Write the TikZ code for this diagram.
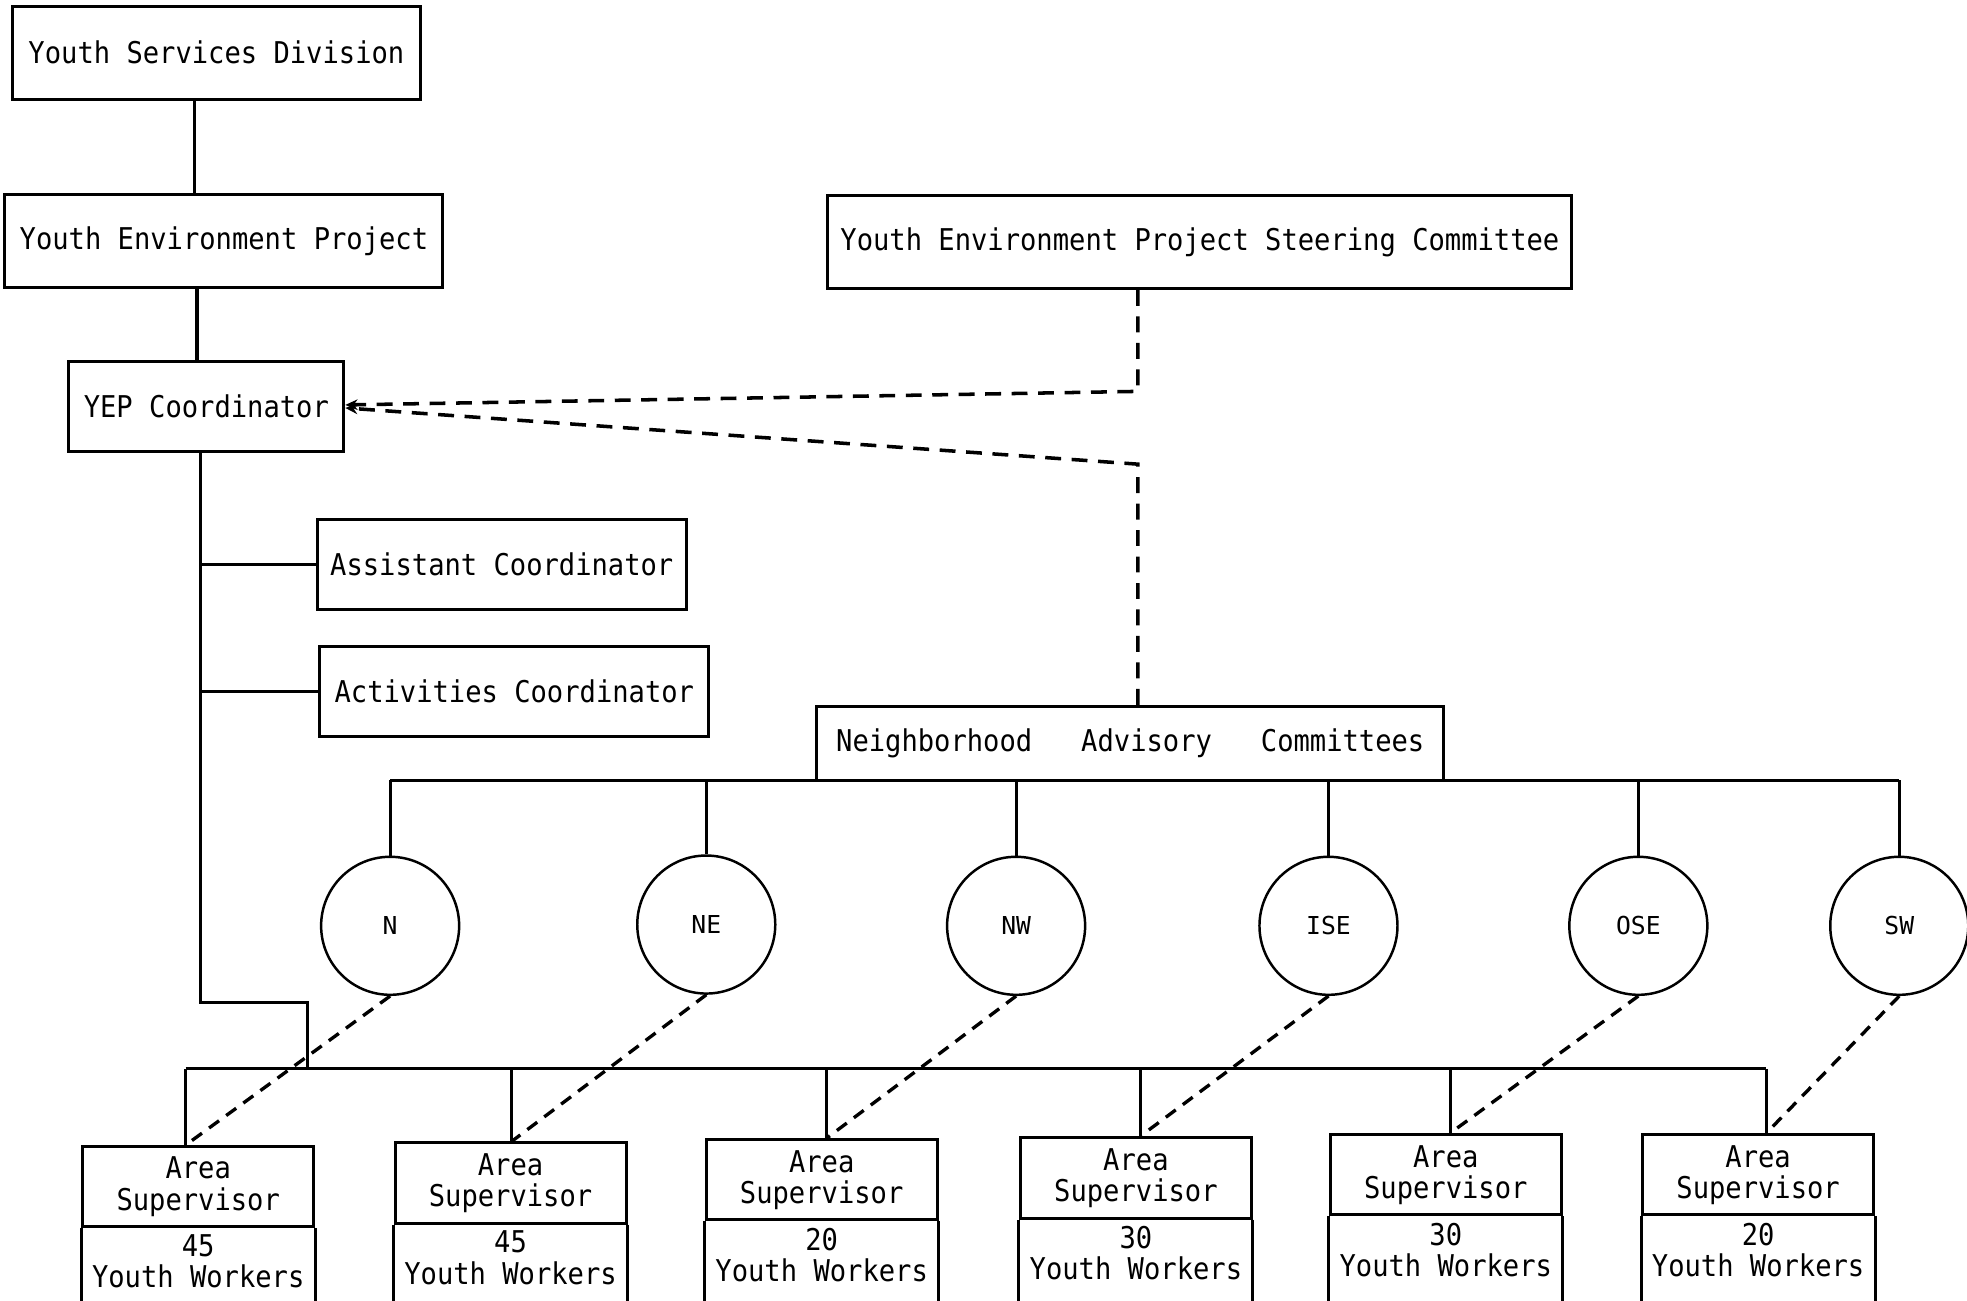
\documentclass[tikz,border=0pt]{standalone}
\usepackage{fontspec}
\setmainfont{DejaVu Sans Mono}[FakeStretch=0.905]
\newfontfamily\circfont{DejaVu Sans Mono}
\usetikzlibrary{arrows.meta}
\begin{document}
\begin{tikzpicture}[x=0.025cm,y=-0.025cm,
  box/.style={draw, line width=1.7pt, inner sep=0pt, minimum height=1.85cm,
    font=\fontsize{17}{17.7}\selectfont},
  sbox/.style={draw, line width=1.7pt, inner sep=0pt, minimum width=4.6cm,
    minimum height=1.6cm, align=center, font=\fontsize{17}{17.7}\selectfont},
  wtext/.style={inner sep=0pt, align=center, anchor=north, font=\fontsize{17}{17.7}\selectfont},
  circ/.style={draw, circle, line width=1.4pt, minimum size=2.75cm, inner sep=0pt,
    font=\circfont\fontsize{14}{15}\selectfont},
  solidline/.style={line width=1.8pt},
  dashline/.style={line width=2pt, dash pattern=on 9pt off 6pt},
  diagline/.style={line width=1.9pt, dash pattern=on 7pt off 5pt},
  tip/.style={-{Stealth[length=7pt,width=6pt]}}
]
\useasboundingbox (0,0) rectangle (1568,1037);
\clip (0,0) rectangle (1568,1037);
\fill[white] (0,0) rectangle (1568,1037);

% top boxes
\node[box, minimum width=8.125cm] (ysd) at (172.5,42) {Youth Services Division};
\node[box, minimum width=8.725cm] (yep) at (178.5,192) {Youth Environment Project};
\node[box, minimum width=14.825cm] (steer) at (956.5,193) {Youth Environment Project Steering Committee};
\node[box, minimum width=5.475cm, minimum height=1.8cm] (coord) at (164.5,324) {YEP Coordinator};
\node[box, minimum width=7.35cm, minimum height=1.8cm] (asst) at (400,450) {Assistant Coordinator};
\node[box, minimum width=7.75cm, minimum height=1.8cm] (act) at (410,551) {Activities Coordinator};
\node[box, minimum width=12.5cm, minimum height=1.475cm] (nac) at (901,592.5) {Neighborhood~~~Advisory~~~Committees};

% circles
\node[circ] (cN) at (311,738) {N};
\node[circ] (cNE) at (563,737) {NE};
\node[circ] (cNW) at (810,738) {NW};
\node[circ] (cISE) at (1059,738) {ISE};
\node[circ] (cOSE) at (1306,738) {OSE};
\node[circ] (cSW) at (1514,738) {SW};

% bottom boxes
\node[sbox] (a1) at (158,946) {Area\\Supervisor};
\node[sbox] (a2) at (407,943) {Area\\Supervisor};
\node[sbox] (a3) at (655,940.5) {Area\\Supervisor};
\node[sbox] (a4) at (905.5,939) {Area\\Supervisor};
\node[sbox] (a5) at (1152.5,936.5) {Area\\Supervisor};
\node[sbox] (a6) at (1401.5,936.5) {Area\\Supervisor};

\foreach \n/\k in {a1/45,a2/45,a3/20,a4/30,a5/30,a6/20}{
  \draw[line width=1.7pt] (\n.south west) -- ++(0,120);
  \draw[line width=1.7pt] (\n.south east) -- ++(0,120);
  \node[wtext] at ([yshift=-0.12cm]\n.south) {\k\\Youth Workers};
}

% solid hierarchy
\draw[solidline] (155,0 |- ysd.south) -- (155,0 |- yep.north);
\draw[solidline] (157,0 |- yep.south) -- (157,0 |- coord.north);
\coordinate (lvtop) at (160,360);
\coordinate (lvbend) at (160,799);
\coordinate (lvjoin) at (245,799);
\coordinate (busL) at (245,852);
\draw[solidline] (lvtop) -- (lvbend) -- (lvjoin) -- (busL);
\draw[solidline] (160,0 |- asst.west) -- (asst.west);
\draw[solidline] (160,0 |- act.west) -- (act.west);

% neighborhood bus
\coordinate (nbL) at (311,622);
\coordinate (nbR) at (1514,622);
\draw[solidline] (nbL) -- (nbR);
\foreach \c in {cN,cNE,cNW,cISE,cOSE,cSW}{
  \draw[solidline] (\c.north |- nbL) -- (\c.north);
}

% supervisor bus
\coordinate (d1) at (148,852);
\coordinate (d2) at (408,852);
\coordinate (d3) at (659,852);
\coordinate (d4) at (909,852);
\coordinate (d5) at (1156,852);
\coordinate (d6) at (1408,852);
\draw[solidline] (d1) -- (d6);
\foreach \i in {1,...,6}{
  \draw[solidline] (d\i) -- (d\i |- a\i.north);
}

% dashed advisory links
\draw[diagline] (cN.south) -- (d1 |- a1.north);
\draw[diagline] (cNE.south) -- (d2 |- a2.north);
\draw[diagline] (cNW.south) -- (d3 |- a3.north);
\draw[diagline] (cISE.south) -- (d4 |- a4.north);
\draw[diagline] (cOSE.south) -- (d5 |- a5.north);
\draw[diagline] (cSW.south) -- (d6 |- a6.north);

% dashed steering links
\coordinate (st1) at (907,312);
\coordinate (st2) at (907,370);
\draw[dashline, tip] (907,0 |- steer.south) -- (st1) -- ([yshift=0.03cm]coord.east);
\draw[dashline, tip] (907,0 |- nac.north) -- (st2) -- ([yshift=-0.03cm]coord.east);
\end{tikzpicture}
\end{document}
